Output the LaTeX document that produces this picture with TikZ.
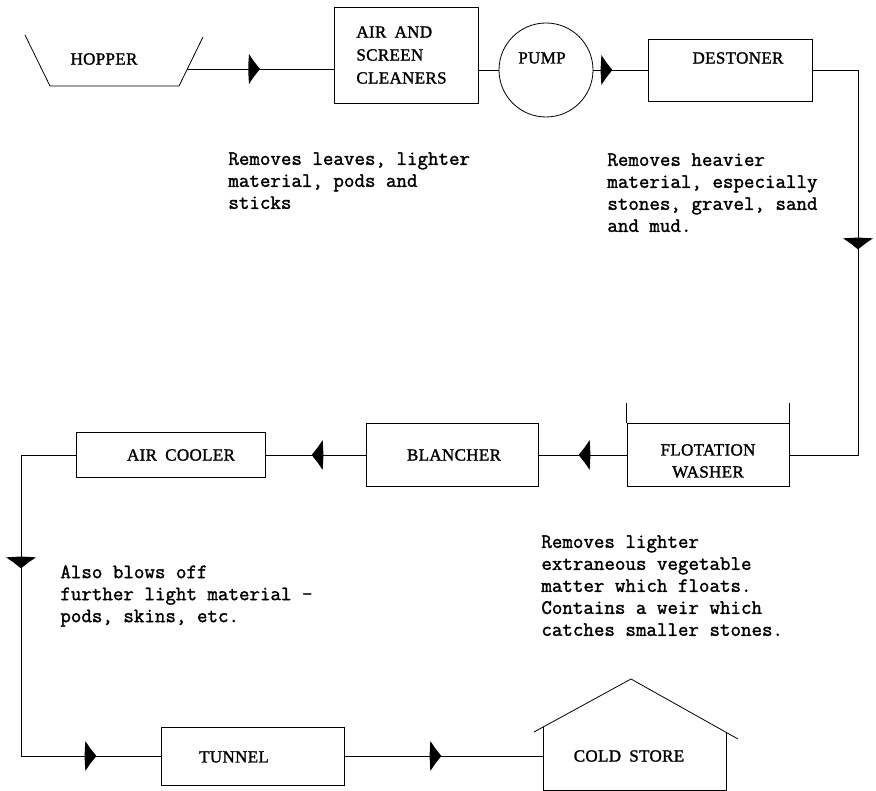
\documentclass[tikz,border=0pt]{standalone}
\usepackage{fontspec}
\setmainfont{Liberation Serif}[FakeBold=1.5,WordSpace=1.8,LetterSpace=2]
\newfontfamily\notefont{Latin Modern Mono}[FakeBold=1.5]
\usetikzlibrary{decorations.markings}
\begin{document}
\begin{tikzpicture}[x=1pt,y=-1pt,
  line width=0.8pt,
  lbl/.style={font=\fontsize{17}{23}\selectfont, inner sep=0pt, align=center},
  box/.style={draw, rectangle, inner sep=0pt},
  note/.style={font=\notefont\fontsize{20.4}{22}\selectfont, anchor=north west, inner sep=0pt, align=left},
  flowmark/.style={postaction={decorate,decoration={markings,mark=at position #1 with {\fill[black] (-5pt,15pt) .. controls (-0.5pt,8pt) .. (6pt,0pt) .. controls (-0.5pt,-8pt) .. (-5pt,-15pt) .. controls (-6pt,0pt) .. (-5pt,15pt) -- cycle;}}}}
]
\useasboundingbox (0,0) rectangle (876,791);

% Hopper
\draw (25,35) -- (50,86) -- (179,86) -- (203,37);
\node[lbl] (hopper) at (104,59) {HOPPER};
\coordinate (hopperout) at (187,69);

% Air and screen cleaners
\node[box, minimum width=144pt, minimum height=96pt] (air) at (406,55) {};
\node[lbl, align=left, anchor=west] (airtext) at (356,55) {AIR AND\\SCREEN\\CLEANERS};

% Pump
\node[draw, circle, minimum size=94pt, inner sep=0pt] (pump) at (546,70) {};
\node[lbl] (pumptext) at (542,58) {PUMP};

% Destoner
\node[box, minimum width=164pt, minimum height=62pt] (des) at (730,70) {};
\node[lbl] (destext) at (738,58) {DESTONER};

% Flotation washer
\node[box, minimum width=162pt, minimum height=63pt] (washer) at (708,455) {};
\draw (washer.north west) -- ++(0,-20);
\draw (washer.north east) -- ++(0,-20);
\node[lbl, font=\fontsize{17}{22}\selectfont] (washtext) at (708,461) {FLOTATION\\WASHER};

% Blancher
\node[box, minimum width=172pt, minimum height=63pt] (blan) at (452,455) {};
\node[lbl] (blantext) at (454,455) {BLANCHER};

% Air cooler
\node[box, minimum width=189pt, minimum height=45pt] (cool) at (170.5,455) {};
\node[lbl] (cooltext) at (181,455) {AIR COOLER};

% Tunnel
\node[box, minimum width=183pt, minimum height=58pt] (tunnel) at (252.5,756) {};
\node[lbl] (tuntext) at (234,757) {TUNNEL};

% Cold store
\draw (534,732) -- (631,679) -- (738,739);
\draw (543,727) -- (543,790) -- (726,790) -- (726,732);
\node[lbl] (cold) at (629,756) {COLD STORE};
\coordinate (coldin) at (543,756);

% Connectors
\draw[flowmark=67pt] (hopperout) -- (hopperout -| air.west);
\draw (pump.west -| air.east) -- (pump.west);
\draw[flowmark=13pt] (pump.east) -- (des.west);
\coordinate (rc) at (858,70);
\draw[flowmark=219pt] (des.east) -- (rc) |- (washer.east);
\draw[flowmark=42pt] (washer.west) -- (blan.east);
\draw[flowmark=48pt] (blan.west) -- (cool.east);
\coordinate (lc) at (21,756);
\draw[flowmark=162pt, flowmark=425pt] (cool.west) -| (lc) -- (tunnel.west);
\draw[flowmark=91pt] (tunnel.east) -- (coldin);

% Notes
\node[note] (n1) at (228,152) {Removes leaves, lighter\\material, pods and\\sticks};
\node[note] (n2) at (607,153) {Removes heavier\\material, especially\\stones, gravel, sand\\and mud.};
\node[note] (n3) at (60,565) {Also blows off\\further light material -\\pods, skins, etc.};
\node[note] (n4) at (541,535) {Removes lighter\\extraneous vegetable\\matter which floats.\\Contains a weir which\\catches smaller stones.};
\end{tikzpicture}
\end{document}
